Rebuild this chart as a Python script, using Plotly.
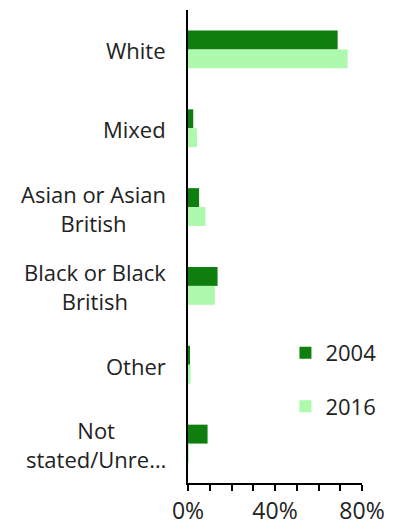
import plotly.graph_objects as go

categories = ["White", "Mixed", "Asian or Asian British", "Black or Black British", "Other", "Not stated/Unrecorded"]
label_text = ["White", "Mixed", "Asian or Asian<br>British", "Black or Black<br>British", "Other", "Not<br>stated/Unre…"]
values_2004 = [68.8, 2.4, 5.1, 13.6, 0.8, 9.0]
values_2016 = [73.4, 4.1, 8.0, 12.3, 1.2, 0.3]
tick_vals = [0, 10, 20, 30, 40, 50, 60, 70, 80]
tick_text = ["0%", "", "", "", "40%", "", "", "", "80%"]

FONT = "Open Sans"
TXT = "#222222"

fig = go.Figure()
fig.add_trace(go.Bar(y=categories, x=values_2004, name="2004", orientation="h",
                     marker=dict(color="#0E7F0E", line=dict(width=0)), legendgroup="a"))
fig.add_trace(go.Bar(y=categories, x=values_2016, name="2016", orientation="h",
                     marker=dict(color="#ADF9AD", line=dict(width=0)), legendgroup="b"))

for cat, lab in zip(categories, label_text):
    fig.add_annotation(x=0, xref="paper", y=cat, yref="y", text=lab, showarrow=False,
                       xanchor="right", align="center", xshift=-20, yshift=-1,
                       font=dict(family=FONT, size=22, color=TXT))

fig.update_layout(
    width=392, height=523,
    margin=dict(l=180, r=38, t=2, b=48),
    paper_bgcolor="white", plot_bgcolor="white",
    barmode="group", bargap=0.52, bargroupgap=0,
    font=dict(family=FONT, size=22, color=TXT),
    showlegend=True,
    legend=dict(x=0.56, xanchor="left", y=0.218, yanchor="middle", tracegroupgap=22,
                font=dict(family=FONT, size=22, color=TXT), bgcolor="rgba(0,0,0,0)"),
    xaxis=dict(range=[0, 80], tickvals=tick_vals, ticktext=tick_text, ticks="outside",
               ticklen=6, tickwidth=1.5, tickcolor="black", showgrid=False, zeroline=False,
               showline=True, linecolor="black", linewidth=2,
               tickfont=dict(family=FONT, size=23, color=TXT)),
    yaxis=dict(categoryorder="array", categoryarray=categories, autorange="reversed",
               showticklabels=False, ticks="", showgrid=False, zeroline=False,
               showline=True, linecolor="black", linewidth=2),
)

fig.write_html("out.html")
